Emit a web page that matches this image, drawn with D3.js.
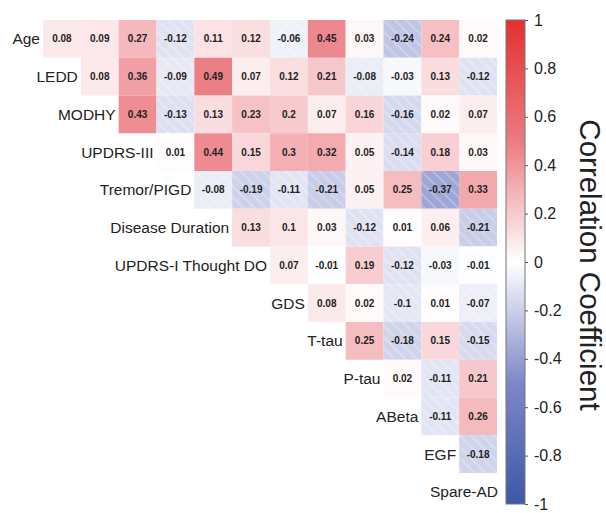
<!DOCTYPE html>
<html>
<head>
<meta charset="utf-8">
<script src="https://cdn.jsdelivr.net/npm/d3@7"></script>
<style>
  body { margin: 0; background: #fff; }
  svg { display: block; font-family: "Liberation Sans", Arial, sans-serif; }
</style>
</head>
<body>
<div id="chart"></div>
<script>
const w = 606, h = 513

// variables, top to bottom
const rowLabels = ["Age", "LEDD", "MODHY", "UPDRS-III", "Tremor/PIGD", "Disease Duration",
    "UPDRS-I Thought DO", "GDS", "T-tau", "P-tau", "ABeta", "EGF", "Spare-AD"]

// upper triangle, row i holds correlations with rowLabels[i+1..]
const corrAge = [0.08, 0.09, 0.27, -0.12, 0.11, 0.12, -0.06, 0.45, 0.03, -0.24, 0.24, 0.02]
const corrLEDD = [0.08, 0.36, -0.09, 0.49, 0.07, 0.12, 0.21, -0.08, -0.03, 0.13, -0.12]
const corrMODHY = [0.43, -0.13, 0.13, 0.23, 0.2, 0.07, 0.16, -0.16, 0.02, 0.07]
const corrUPDRS3 = [0.01, 0.44, 0.15, 0.3, 0.32, 0.05, -0.14, 0.18, 0.03]
const corrTremor = [-0.08, -0.19, -0.11, -0.21, 0.05, 0.25, -0.37, 0.33]
const corrDuration = [0.13, 0.1, 0.03, -0.12, 0.01, 0.06, -0.21]
const corrUPDRS1 = [0.07, -0.01, 0.19, -0.12, -0.03, -0.01]
const corrGDS = [0.08, 0.02, -0.1, 0.01, -0.07]
const corrTtau = [0.25, -0.18, 0.15, -0.15]
const corrPtau = [0.02, -0.11, 0.21]
const corrABeta = [-0.11, 0.26]
const corrEGF = [-0.18]

const rowValues = [corrAge, corrLEDD, corrMODHY, corrUPDRS3, corrTremor, corrDuration,
    corrUPDRS1, corrGDS, corrTtau, corrPtau, corrABeta, corrEGF]

const barTicks = [1, 0.8, 0.6, 0.4, 0.2, 0, -0.2, -0.4, -0.6, -0.8, -1]

const colLabels = rowLabels.slice(1)

// flatten to cells
const cells = []
rowValues.forEach((vals, i) => {
    vals.forEach((v, k) => {
        cells.push({ row: rowLabels[i], col: colLabels[i + k], value: v })
    })
})

//scales
const colscale = d3.scaleBand().domain(colLabels).range([43, 497])
const rowscale = d3.scaleBand().domain(rowLabels).range([20, 20 + 13 * (453 / 12)])

const color = d3.scaleLinear()
    .domain([-1, -0.5, 0, 0.5, 1])
    .range(["#3c58a8", "#7d87c8", "#ffffff", "#ec7b82", "#e3302f"])
    .clamp(true)

const svg = d3.select("#chart").append("svg")
    .attr("width", w)
    .attr("height", h)

const defs = svg.append("defs")

// faint white hatching on negative cells
const hatch = defs.append("pattern")
    .attr("id", "hatch")
    .attr("patternUnits", "userSpaceOnUse")
    .attr("width", 8)
    .attr("height", 8)
    .attr("patternTransform", "rotate(-45)")
hatch.append("line")
    .attr("x1", 1).attr("y1", 0)
    .attr("x2", 1).attr("y2", 8)
    .attr("stroke", "white")
    .attr("stroke-opacity", 0.45)
    .attr("stroke-width", 1)

// cells
svg.selectAll("rect.cell")
    .data(cells)
    .enter()
    .append("rect")
    .attr("class", "cell")
    .attr("x", d => colscale(d.col))
    .attr("y", d => rowscale(d.row))
    .attr("width", colscale.bandwidth())
    .attr("height", rowscale.bandwidth())
    .attr("fill", d => color(d.value))

svg.selectAll("rect.hatch")
    .data(cells.filter(d => d.value < 0))
    .enter()
    .append("rect")
    .attr("class", "hatch")
    .attr("x", d => colscale(d.col))
    .attr("y", d => rowscale(d.row))
    .attr("width", colscale.bandwidth())
    .attr("height", rowscale.bandwidth())
    .attr("fill", "url(#hatch)")

svg.selectAll("text.val")
    .data(cells)
    .enter()
    .append("text")
    .attr("class", "val")
    .attr("x", d => colscale(d.col) + colscale.bandwidth() / 2)
    .attr("y", d => rowscale(d.row) + rowscale.bandwidth() / 2)
    .attr("dy", "0.35em")
    .attr("text-anchor", "middle")
    .attr("font-size", 10)
    .attr("font-weight", "bold")
    .attr("fill", "#222")
    .text(d => String(d.value))

// row labels sit left of the diagonal cell
svg.selectAll("text.rowlabel")
    .data(rowLabels)
    .enter()
    .append("text")
    .attr("class", "rowlabel")
    .attr("x", (d, i) => {
        const c = i < colLabels.length ? colLabels[i] : null
        return c ? colscale(c) - 3 : colscale.range()[1] + 1
    })
    .attr("y", d => rowscale(d) + rowscale.bandwidth() / 2)
    .attr("dy", "0.35em")
    .attr("text-anchor", "end")
    .attr("font-size", 15.5)
    .attr("fill", "#222")
    .text(d => d)

// colorbar
const barX = 506, barW = 19
const barY = d3.scaleLinear().domain([1, -1]).range([20, 504])

const grad = defs.append("linearGradient")
    .attr("id", "cbar")
    .attr("x1", 0).attr("y1", 0)
    .attr("x2", 0).attr("y2", 1)
grad.selectAll("stop")
    .data(d3.range(0, 21))
    .enter()
    .append("stop")
    .attr("offset", d => d / 20)
    .attr("stop-color", d => color(1 - d / 10))

svg.append("rect")
    .attr("x", barX)
    .attr("y", barY(1))
    .attr("width", barW)
    .attr("height", barY(-1) - barY(1))
    .attr("fill", "url(#cbar)")
    .attr("stroke", "#777")
    .attr("stroke-width", 1)

const barAxis = d3.axisRight(barY)
    .tickValues(barTicks)
    .tickSize(3)
    .tickPadding(6)
    .tickFormat(d => String(d))

const ax = svg.append("g")
    .attr("transform", "translate(" + (barX + barW) + ",0)")
    .call(barAxis)
ax.select(".domain").remove()
ax.selectAll("line").attr("stroke", "#555")
ax.selectAll("text")
    .attr("font-size", 16)
    .attr("font-family", "Liberation Sans, Arial, sans-serif")
    .attr("fill", "#222")

svg.append("text")
    .attr("transform", "translate(580," + (barY(0) + 3) + ") rotate(90)")
    .attr("text-anchor", "middle")
    .attr("font-size", 29.5)
    .attr("fill", "#222")
    .text("Correlation Coefficient")
</script>
</body>
</html>
